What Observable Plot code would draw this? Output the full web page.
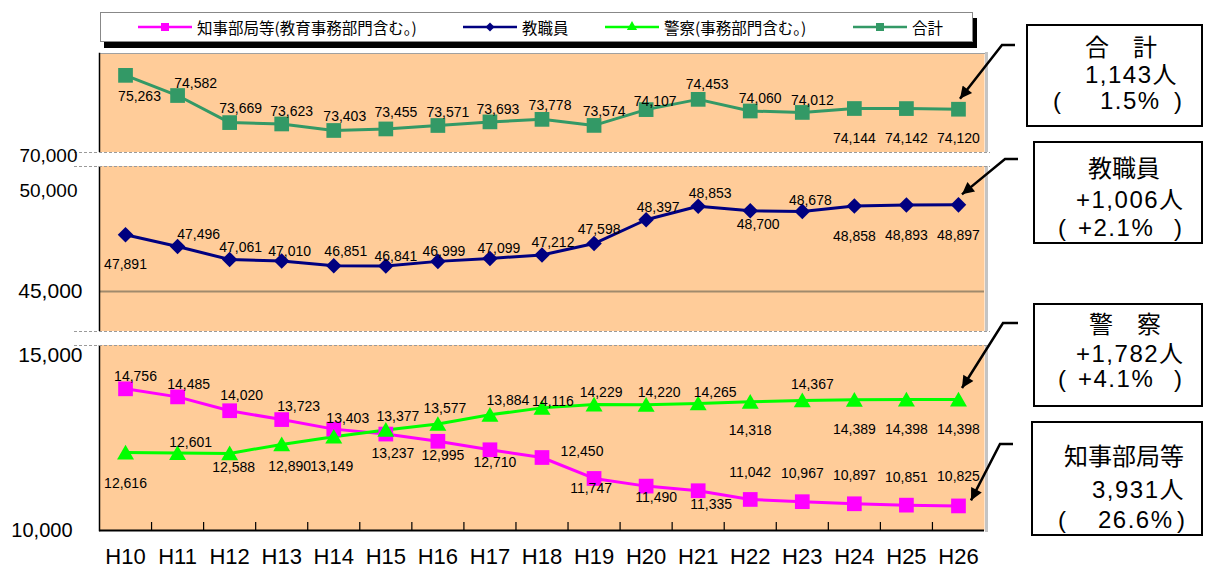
<!DOCTYPE html>
<html><head><meta charset="utf-8">
<script src="https://cdn.jsdelivr.net/npm/d3@7"></script>
<script src="https://cdn.jsdelivr.net/npm/@observablehq/plot@0.6"></script>
<style>
html,body{margin:0;padding:0;background:#fff;}
#wrap{position:relative;width:1208px;height:570px;overflow:hidden;font-family:"Liberation Sans",Arial,sans-serif;}
#wrap > svg{position:absolute;left:0;top:0;}
.legend{position:absolute;left:100px;top:12px;width:871px;height:28px;border:1px solid #888;background:#fff;box-shadow:4px 6px 0 #000;}
.lg-item{position:absolute;top:0;height:28px;display:flex;align-items:center;font-family:"Noto Sans CJK JP",sans-serif;font-size:15.5px;color:#000;white-space:nowrap;}
.lg-item svg{margin-right:5px;}
.box{position:absolute;border:2px solid #000;background:#fff;box-sizing:border-box;}
.btitle{position:absolute;width:200px;height:22px;line-height:22px;text-align:center;font-family:"Noto Sans CJK JP",sans-serif;font-size:24px;color:#000;white-space:pre;}
.bnum{position:absolute;height:22px;line-height:22px;font-family:"Liberation Sans","Noto Sans CJK JP",sans-serif;font-size:24px;color:#000;white-space:pre;letter-spacing:1.5px;}
#ann{position:absolute;left:0;top:0;pointer-events:none;}
</style></head><body><div id="wrap"></div>
<script>
// ---------------- data ----------------
const years = ["H10","H11","H12","H13","H14","H15","H16","H17","H18","H19","H20","H21","H22","H23","H24","H25","H26"];
const governor = [14756,14485,14020,13723,13403,13237,12995,12710,12450,11747,11490,11335,11042,10967,10897,10851,10825];
const teachers = [47891,47496,47061,47010,46851,46841,46999,47099,47212,47598,48397,48853,48700,48678,48858,48893,48897];
const police   = [12616,12601,12588,12890,13149,13377,13577,13884,14116,14229,14220,14265,14318,14367,14389,14398,14398];
const total    = [75263,74582,73669,73623,73403,73455,73571,73693,73778,73574,74107,74453,74060,74012,74144,74142,74120];
const seriesNames = ["知事部局等(教育事務部門含む。)", "教職員", "警察(事務部門含む。)", "合計"];
const yTickLabelsSmall = [70000, 50000];
const yTickLabelsLarge = [45000, 15000];
const yTickLabelsBase = [10000];
const gridValues = [45000];
const calloutTitles  = ["合　計", "教職員", "警　察", "知事部局等"];
const calloutChanges = ["1,143人", "+1,006人", "+1,782人", "3,931人"];
const calloutRates   = ["1.5%", "+2.1%", "+4.1%", "26.6%"];

// ---------------- layout / style ----------------
const W = 1208, H = 570;
// broken (piecewise) y axis: [value, pixel]
const yBreaks = [
  [10000, 530], [14800, 387], [15000, 355], [15400, 345],
  [44600, 331], [45000, 291], [46800, 266.8], [49000, 201.3], [50000, 190], [50500, 166],
  [70000, 155], [72660, 152], [76000, 53]
];
const gaps = [{lo: 72660, hi: 50500}, {lo: 44600, hi: 15400}];

const totalOff    = [[14,21],[18,-12],[11,-14],[10,-12],[11,-14],[10,-16],[10,-13],[8,-12],[8,-14],[10,-14],[9,-8],[9,-15],[10,-12],[10,-12],[0,30],[0,30],[0,29]];
const teacherOff  = [[0,30],[21,-12],[11,-12],[8,-10],[12,-14],[10,-10],[6,-10],[9,-10],[11,-13],[5,-14],[12,-12],[12,-13],[8,14],[8,-11],[0,30],[0,31],[0,31]];
const governorOff = [[10,-12],[11,-12],[12,-15],[17,-13],[14,-11],[7,19],[5,14],[5,13],[40,-6],[-3,10],[10,11],[13,14],[0,-27],[0,-28],[0,-28],[0,-28],[0,-29]];
const policeOff   = [[0,31],[13,-10],[4,14],[8,22],[-2,30],[12,-13],[7,-15],[18,-14],[11,-6],[7,-12],[13,-12],[17,-11],[0,29],[10,-16],[0,30],[0,30],[0,30]];

const series = [
  {name: seriesNames[0], values: governor, color: "#FF00FF", symbol: "square",   r: 8.3, dy: 0, off: governorOff, lg: d3.symbolSquare,   lgSize: 64},
  {name: seriesNames[1], values: teachers, color: "#000080", symbol: "diamond2", r: 7,   dy: 0, off: teacherOff,  lg: d3.symbolDiamond2, lgSize: 52},
  {name: seriesNames[2], values: police,   color: "#00FF00", symbol: "triangle", r: 6.3, dy: 2, off: policeOff,   lg: d3.symbolTriangle, lgSize: 45},
  {name: seriesNames[3], values: total,    color: "#339966", symbol: "square",   r: 8.3, dy: 0, off: totalOff,    lg: d3.symbolSquare,   lgSize: 64}
];
const fmt = d3.format(",");
const idx = d3.range(years.length);

// ---------------- marks ----------------
const marks = [
  Plot.frame({fill: "#FFCC99"}),
  Plot.frame({anchor: "top", stroke: "#a0a0a0"}),
  Plot.frame({anchor: "right", stroke: "#c4c4c4", strokeWidth: 3, dx: 2}),
  Plot.ruleY(gridValues, {stroke: "#A08A6C", strokeWidth: 2}),
  Plot.frame({anchor: "left", stroke: "#000", strokeWidth: 1.5}),
  Plot.rect(gaps, {y1: "lo", y2: "hi", fill: "white", insetLeft: -5, insetRight: -8}),
  Plot.ruleY(gaps.flatMap(g => [g.lo, g.hi]), {stroke: "#9a9a9a", strokeWidth: 1, strokeDasharray: "3,2", insetLeft: -25, insetRight: -6}),
  Plot.ruleY(yTickLabelsBase, {stroke: "#000", strokeWidth: 2}),
  Plot.axisX(d3.range(0.5, years.length - 1, 1), {anchor: "bottom", tickSize: 8, dy: -8, fill: "none", label: null, stroke: "#000", strokeWidth: 1.2}),
  Plot.axisX(idx, {anchor: "bottom", tickSize: 0, tickPadding: 18, tickFormat: i => years[i], fontSize: 22, label: null, fill: "#000"}),
  Plot.axisY(yTickLabelsSmall, {anchor: "left", tickSize: 0, tickPadding: 22, tickFormat: fmt, fontSize: 19, label: null, fill: "#000"}),
  Plot.axisY(yTickLabelsLarge, {anchor: "left", tickSize: 0, tickPadding: 17, tickFormat: fmt, fontSize: 21, label: null, fill: "#000"}),
  Plot.axisY(yTickLabelsBase, {anchor: "left", tickSize: 0, tickPadding: 27, tickFormat: fmt, fontSize: 20, label: null, fill: "#000"})
];
for (const s of series) {
  marks.push(Plot.line(s.values, {x: (d, i) => i, y: d => d, stroke: s.color, strokeWidth: 3}));
}
for (const s of series) {
  marks.push(Plot.dot(s.values, {x: (d, i) => i, y: d => d, symbol: s.symbol, r: s.r, fill: s.color, stroke: "none", dy: s.dy}));
}
for (const s of series) {
  s.values.forEach((v, i) => {
    marks.push(Plot.text([{i, v}], {x: "i", y: "v", text: d => fmt(d.v), dx: s.off[i][0], dy: s.off[i][1], fontSize: 14, fill: "#000"}));
  });
}

const chart = Plot.plot({
  width: W, height: H,
  marginLeft: 99, marginRight: 224, marginTop: 53, marginBottom: 40,
  x: {type: "linear", domain: [-0.5, years.length - 0.5]},
  y: {type: "linear", domain: yBreaks.map(d => d[0]), range: yBreaks.map(d => d[1])},
  style: {fontFamily: "'Liberation Sans', Arial, sans-serif", fontSize: "14px", color: "#000", background: "transparent", overflow: "visible"},
  marks
});
const wrap = document.getElementById("wrap");
wrap.appendChild(chart);

// ---------------- legend ----------------
const legend = document.createElement("div");
legend.className = "legend";
wrap.appendChild(legend);
const legendLeft = [37, 362, 504, 752];
series.forEach((s, k) => {
  const item = document.createElement("div");
  item.className = "lg-item";
  item.style.left = legendLeft[k] + "px";
  const svg = d3.create("svg").attr("width", 54).attr("height", 16);
  svg.append("line").attr("x1", 0).attr("x2", 54).attr("y1", 8).attr("y2", 8).attr("stroke", s.color).attr("stroke-width", 2.5);
  svg.append("path").attr("transform", "translate(27,8)").attr("d", d3.symbol(s.lg, s.lgSize)()).attr("fill", s.color);
  item.appendChild(svg.node());
  const t = document.createElement("span");
  t.textContent = s.name;
  item.appendChild(t);
  legend.appendChild(item);
});

// ---------------- callouts ----------------
const xs = chart.scale("x"), ys = chart.scale("y");
const callouts = [
  {s: 3, box: [1026, 24, 177, 103], titleCx: 1121, cy: [46, 75, 101], numX: 1085, rateX: [1053, 1100, 1174], corner: [1002, 45], end: [1015, 45], tip: [2, -10]},
  {s: 1, box: [1033, 141, 170, 103], titleCx: 1124, cy: [167, 200, 228], numX: 1076, rateX: [1058, 1078, 1174], corner: [1005, 159], end: [1018, 159], tip: [4, -10]},
  {s: 2, box: [1033, 303, 170, 104], titleCx: 1125, cy: [323, 354, 379], numX: 1076, rateX: [1058, 1078, 1174], corner: [1003, 323], end: [1018, 323], tip: [4, -11]},
  {s: 0, box: [1031, 421, 172, 115], titleCx: 1124, cy: [455, 490, 520], numX: 1092, rateX: [1058, 1098, 1177], corner: [1000, 444], end: [1013, 444], tip: [13, -5]}
];
const ann = d3.create("svg").attr("id", "ann").attr("width", W).attr("height", H);
ann.append("defs").append("marker").attr("id", "ah").attr("viewBox", "0 0 10 10")
  .attr("refX", 10).attr("refY", 5).attr("markerWidth", 15).attr("markerHeight", 12)
  .attr("markerUnits", "userSpaceOnUse").attr("orient", "auto")
  .append("path").attr("d", "M0,0L10,5L0,10z").attr("fill", "#000");
function addText(cls, txt, left, cy) {
  const d = document.createElement("div");
  d.className = cls;
  d.textContent = txt;
  d.style.left = left + "px";
  d.style.top = (cy - 11) + "px";
  wrap.appendChild(d);
}
callouts.forEach((c, k) => {
  const s = series[c.s];
  const last = s.values.length - 1;
  const tx = xs.apply(last) + c.tip[0], ty = ys.apply(s.values[last]) + c.tip[1];
  ann.append("path").attr("d", `M${c.end[0]},${c.end[1]}L${c.corner[0]},${c.corner[1]}L${tx},${ty}`)
    .attr("fill", "none").attr("stroke", "#000").attr("stroke-width", 2.5).attr("marker-end", "url(#ah)");
  const b = document.createElement("div");
  b.className = "box";
  Object.assign(b.style, {left: c.box[0] + "px", top: c.box[1] + "px", width: c.box[2] + "px", height: c.box[3] + "px"});
  wrap.appendChild(b);
  addText("btitle", calloutTitles[k], c.titleCx - 100, c.cy[0]);
  addText("bnum", calloutChanges[k], c.numX, c.cy[1]);
  addText("bnum", "(", c.rateX[0], c.cy[2]);
  addText("bnum", calloutRates[k], c.rateX[1], c.cy[2]);
  addText("bnum", ")", c.rateX[2], c.cy[2]);
});
wrap.appendChild(ann.node());
</script>
</body></html>
